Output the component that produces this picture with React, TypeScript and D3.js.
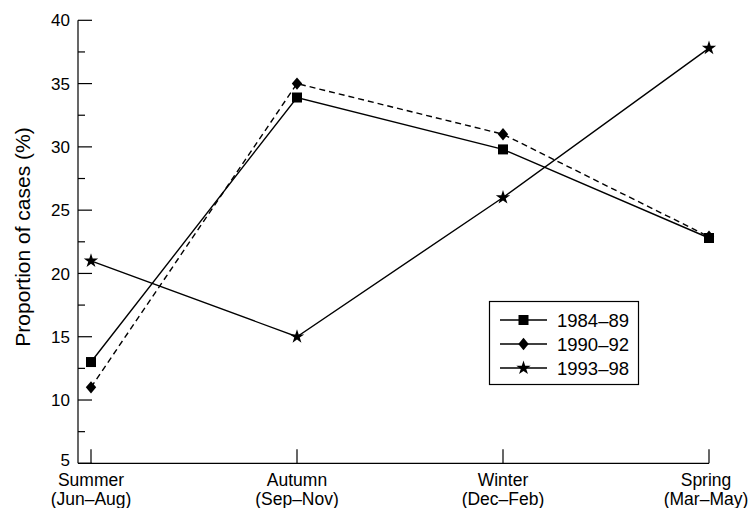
import React from 'react';
import * as d3 from 'd3';

const seasons = ['Summer', 'Autumn', 'Winter', 'Spring'];
const months = ['(Jun–Aug)', '(Sep–Nov)', '(Dec–Feb)', '(Mar–May)'];
const series8489 = [13, 33.9, 29.8, 22.8];
const series9092 = [11, 35, 31, 22.9];
const series9398 = [21, 15, 26, 37.8];
const seriesNames = ['1984–89', '1990–92', '1993–98'];
const majorTicks = [5, 10, 15, 20, 25, 30, 35, 40];
const minorTicks = [7.5, 12.5, 17.5, 22.5, 27.5, 32.5, 37.5];

const W = 751;
const H = 508;
const axisX = 78;
const axisY = 463.3;
const font = '"Liberation Sans", Arial, Helvetica, sans-serif';

const x = d3.scalePoint<string>().domain(seasons).range([91, 709]);
const y = d3.scaleLinear().domain([5, 40]).range([axisY, 20.3]);

const starPath = d3.symbol().type(d3.symbolStar).size(64)()!;
const diamondPath = 'M0,-6.2L5.2,0L0,6.2L-5.2,0Z';

function Marker({ kind, cx, cy }: { kind: string; cx: number; cy: number }) {
  if (kind === 'square') return <rect x={cx - 5} y={cy - 5} width={10} height={10} fill="#000" />;
  if (kind === 'diamond') return <path d={diamondPath} transform={`translate(${cx},${cy})`} fill="#000" />;
  return <path d={starPath} transform={`translate(${cx},${cy})`} fill="#000" />;
}

const App: React.FC = () => {
  const line = d3.line<number>()
    .x((_, i) => x(seasons[i])!)
    .y(d => y(d));

  const data = [
    { name: seriesNames[0], values: series8489, kind: 'square', dash: undefined },
    { name: seriesNames[1], values: series9092, kind: 'diamond', dash: '6,4' },
    { name: seriesNames[2], values: series9398, kind: 'star', dash: undefined },
  ];

  const legendRows = [320, 344, 368];

  return (
    <svg width={W} height={H} style={{ position: 'absolute', left: 0, top: 0, background: '#fff' }}
      fontFamily={font}>
      {/* y axis */}
      <line x1={axisX} x2={axisX} y1={y(40)} y2={axisY} stroke="#000" strokeWidth={1.2} />
      {majorTicks.map(t => (
        <g key={t}>
          <line x1={axisX} x2={axisX + 14} y1={y(t)} y2={y(t)} stroke="#000" strokeWidth={1.2} />
          <text x={70} y={y(t) - (t === 5 ? 3 : 0)} dy="0.36em" textAnchor="end" fontSize={17}>{t}</text>
        </g>
      ))}
      {minorTicks.map(t => (
        <line key={t} x1={axisX} x2={axisX + 7} y1={y(t)} y2={y(t)} stroke="#000" strokeWidth={1.2} />
      ))}
      <text transform="translate(30,237) rotate(-90)" textAnchor="middle" fontSize={21}>
        Proportion of cases (%)
      </text>

      {/* x axis */}
      <line x1={axisX} x2={x('Spring')!} y1={axisY} y2={axisY} stroke="#000" strokeWidth={1.2} />
      {seasons.map((s, i) => (
        <g key={s}>
          <line x1={x(s)!} x2={x(s)!} y1={axisY} y2={axisY - 14} stroke="#000" strokeWidth={1.2} />
          <text x={i === 3 ? x(s)! - 3 : x(s)!} y={486} textAnchor="middle" fontSize={17.5}>{s}</text>
          <text x={i === 3 ? x(s)! - 3 : x(s)!} y={505} textAnchor="middle" fontSize={17.5}>{months[i]}</text>
        </g>
      ))}

      {/* series */}
      {data.map(d => (
        <g key={d.name}>
          <path d={line(d.values)!} fill="none" stroke="#000" strokeWidth={1.4} strokeDasharray={d.dash} />
          {d.values.map((v, i) => (
            <Marker key={i} kind={d.kind} cx={x(seasons[i])!} cy={y(v)} />
          ))}
        </g>
      ))}

      {/* legend */}
      <rect x={489.5} y={301.5} width={149} height={83} fill="#fff" stroke="#000" strokeWidth={1.2} />
      {data.map((d, i) => (
        <g key={d.name}>
          <line x1={500} x2={547} y1={legendRows[i]} y2={legendRows[i]} stroke="#000" strokeWidth={1.4} />
          <Marker kind={d.kind} cx={523.5} cy={legendRows[i]} />
          <text x={557} y={legendRows[i]} dy="0.36em" fontSize={18.5}>{d.name}</text>
        </g>
      ))}
    </svg>
  );
};

export default App;
